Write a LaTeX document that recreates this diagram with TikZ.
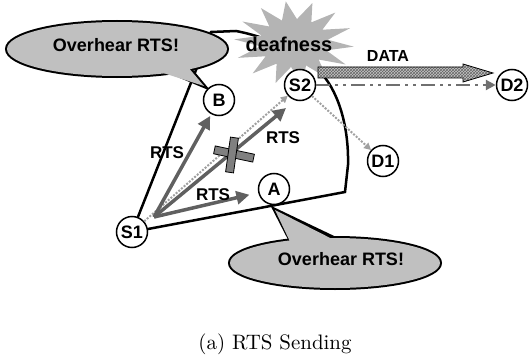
\documentclass[tikz,border=0pt]{standalone}
\usepackage{fontspec}
\setsansfont{Liberation Sans}
\usetikzlibrary{arrows.meta,patterns,calc}
\definecolor{arrowgray}{HTML}{606060}
\definecolor{dotgray}{HTML}{A0A0A0}
\definecolor{ddgray}{HTML}{707070}
\definecolor{callfill}{HTML}{C0C0C0}
\definecolor{starfill}{HTML}{B4B4B4}
\definecolor{crossfill}{HTML}{808080}
\pgfdeclarelayer{bg}
\pgfsetlayers{bg,main}
\tikzset{
  lbl/.style={font=\sffamily\bfseries\fontsize{#1}{#1}\selectfont, inner sep=0pt},
  station/.style={circle, draw=black, fill=white, line width=1.5pt, minimum size=31pt, inner sep=0pt, font=\sffamily\bfseries\fontsize{18}{18}\selectfont},
  rtsarrow/.style={draw=arrowgray, line width=3.5pt, -{Triangle[length=13pt,width=13pt]}},
  dotarrow/.style={draw=dotgray, line width=2pt, dash pattern=on 2pt off 1.5pt, -{Triangle[length=7pt,width=7pt]}},
  ddarrow/.style={draw=ddgray, line width=2.5pt, dash pattern=on 14pt off 5pt on 3pt off 5pt on 3pt off 5pt, -{Triangle[length=10pt,width=10pt]}},
  crossbar/.style={rectangle, draw=black, fill=crossfill, line width=0.8pt, inner sep=0pt},
  sector/.style={draw=black, line width=2.5pt, line join=miter},
  calloutline/.style={draw=black, line width=4pt},
  calloutfill/.style={fill=callfill}
}
\begin{document}
\begin{tikzpicture}[x=1pt,y=-1pt]
\useasboundingbox (0,0) rectangle (530,361);

% stations
\node[station] (S1) at (132,232) {S1};
\node[station] (A) at (274,189) {A};
\node[station] (B) at (219,100) {B};
\node[station] (S2) at (300,85) {S2};
\node[station] (D1) at (383,161) {D1};
\node[station] (D2) at (512,85) {D2};

\coordinate (o) at (154,217);
\coordinate (t2) at (286,108);

\begin{pgfonlayer}{bg}
  % sector (transmission range)
  \draw[sector] (S1.center) -- (211,32) -- (236,31)
     .. controls (272,38) and (300,53) .. (320,72)
     .. controls (336,88) and (349,122) .. (348,165) -- (345,192) -- cycle;
  % deafness star
  \fill[starfill] plot[variable=\k, samples at={0,...,27}]
     ({294+(60-26*mod(\k,2))*cos(\k*360/28+5)}, {43+(42-18*mod(\k,2))*sin(\k*360/28+5)}) -- cycle;
  % callout 1
  \draw[calloutline] (117,49) ellipse [x radius=110, y radius=27];
  \draw[calloutline, line join=miter] (166,70) -- (204,86) -- (184,62);
  \fill[calloutfill] (117,49) ellipse [x radius=110, y radius=27];
  \fill[calloutfill] (160,72) -- (204,86) -- (182,60) -- cycle;
  % callout 2
  \draw[calloutline] (335,263) ellipse [x radius=105, y radius=25];
  \draw[calloutline, line join=miter] (293,245) -- (275,210) -- (340,241);
  \fill[calloutfill] (335,263) ellipse [x radius=105, y radius=25];
  \fill[calloutfill] (293,248) -- (275,210) -- (342,244) -- cycle;
\end{pgfonlayer}

% callout texts and deafness
\node[lbl=18] (ov1) at (116,45) {Overhear RTS!};
\node[lbl=18] (ov2) at (341,259) {Overhear RTS!};
\node[lbl=20] (deaf) at (289,44) {deafness};

% DATA arrow
\draw[preaction={fill=gray!45}, pattern=crosshatch, pattern color=black!60, line width=0.8pt]
  (318,67) -- (463,67) -- (463,64) -- (493,73) -- (463,82) -- (463,78) -- (318,78) -- cycle;
\node[lbl=16] (data) at (388,56) {DATA};

% dotted and dash-dot connectors
\draw[dotarrow] (S1) -- (S2);
\draw[dotarrow] (S2) -- (D1);
\draw[ddarrow] (S2) -- (D2);

% RTS arrows
\draw[rtsarrow, shorten >=2pt] (o) -- (B);
\draw[rtsarrow] (o) -- (t2);
\draw[rtsarrow, shorten >=9pt] (o) -- (A);
\node[lbl=17] (rts1) at (167,153) {RTS};
\node[lbl=17] (rts2) at (283,138) {RTS};
\node[lbl=17] (rts3) at (213,195) {RTS};

% cross
\node[crossbar, minimum width=40pt, minimum height=8pt, rotate=-12] (xh) at (234,154) {};
\node[crossbar, minimum width=8pt, minimum height=35pt, rotate=-8] (xv) at (232,155) {};

% caption
\node (cap) at (275,344) {\scalebox{2.09}{(a) RTS Sending}};
\end{tikzpicture}
\end{document}
